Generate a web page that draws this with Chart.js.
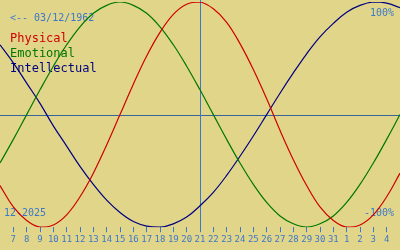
<!DOCTYPE html>
<html>
<head>
<meta charset="utf-8">
<script src="https://cdn.jsdelivr.net/npm/chart.js@4/dist/chart.umd.min.js"></script>
<style>
    html, body { margin: 0; padding: 0; background: #e1d58a; }
    #wrap { width: 400px; height: 250px; }
</style>
</head>
<body>
<div id="wrap"><canvas id="myChart" width="400" height="250"></canvas></div>
<script>
// days shown on the axis (Dec 6 .. Jan 5), the edge days are only there so the curves reach the borders
const days = [6, 7, 8, 9, 10, 11, 12, 13, 14, 15, 16, 17, 18, 19, 20, 21, 22, 23, 24, 25, 26, 27, 28, 29, 30, 31, 1, 2, 3, 4, 5];
const todayIndex = 15; // 21 dec

const physical = [-63, -82, -94, -100, -98, -89, -73, -52, -27, 0, 27, 52, 73, 89, 98, 100, 94, 82, 63, 40, 14, -14, -40, -63, -82, -94, -100, -98, -89, -73, -52];
const emotional = [-43, -22, 0, 22, 43, 62, 78, 90, 97, 100, 97, 90, 78, 62, 43, 22, 0, -22, -43, -62, -78, -90, -97, -100, -97, -90, -78, -62, -43, -22, 0];
const intellectual = [62, 46, 28, 10, -10, -28, -46, -62, -76, -87, -95, -99, -100, -97, -91, -81, -69, -54, -37, -19, 0, 19, 37, 54, 69, 81, 91, 97, 100, 99, 95];

const birthLabel = '<-- 03/12/1962';
const monthLabel = '12-2025';
const topLabel = '100%';
const bottomLabel = '-100%';

const blue = '#3c78c8';
const mono = "'DejaVu Sans Mono', 'Liberation Mono', monospace";

const toPoints = (values) => values.map((v, i) => ({ x: i, y: v }));

const marks = {
    id: 'marks',
    beforeDatasetsDraw(chart) {
        const { ctx, chartArea, scales } = chart;
        const x = scales.x, y = scales.y;
        ctx.save();

        // zero line
        const yz = Math.round(y.getPixelForValue(0)) + 0.5;
        ctx.strokeStyle = '#35659a';
        ctx.lineWidth = 1;
        ctx.beginPath();
        ctx.moveTo(0, yz);
        ctx.lineTo(chart.width, yz);
        ctx.stroke();

        // today
        const xt = Math.round(x.getPixelForValue(todayIndex)) + 0.5;
        ctx.strokeStyle = blue;
        ctx.beginPath();
        ctx.moveTo(xt, 0);
        ctx.lineTo(xt, chartArea.bottom);
        ctx.stroke();

        // texts
        ctx.textBaseline = 'alphabetic';
        ctx.font = '10px ' + mono;
        ctx.fillStyle = blue;
        ctx.textAlign = 'left';
        ctx.fillText(birthLabel, 10, 21);
        ctx.fillText(monthLabel, 4, 216);
        ctx.textAlign = 'right';
        ctx.fillText(topLabel, 394, 16);
        ctx.fillText(bottomLabel, 394, 216);

        ctx.textAlign = 'left';
        ctx.font = '12px ' + mono;
        chart.data.datasets.forEach((ds, i) => {
            ctx.fillStyle = ds.borderColor;
            ctx.fillText(ds.label, 10, 42 + i * 15);
        });
        ctx.restore();
    }
};

const ctx = document.getElementById('myChart').getContext('2d');

const data = {
    datasets: [
        { label: 'Physical', data: toPoints(physical), borderColor: '#d00000' },
        { label: 'Emotional', data: toPoints(emotional), borderColor: '#007800' },
        { label: 'Intellectual', data: toPoints(intellectual), borderColor: '#000080' },
    ]
};

const config = {
    type: 'line',
    data: data,
    options: {
        responsive: false,
        animation: false,
        layout: { padding: { top: 2, bottom: 3, left: 0, right: 0 } },
        elements: {
            point: { radius: 0 },
            line: { borderWidth: 1.2, tension: 0.4, fill: false }
        },
        plugins: {
            legend: { display: false },
            tooltip: { enabled: false }
        },
        scales: {
            x: {
                type: 'linear',
                min: 0,
                max: days.length - 1,
                afterBuildTicks: (axis) => {
                    axis.ticks = days.map((d, i) => ({ value: i })).filter(t => t.value > 0 && t.value < days.length - 1);
                },
                ticks: {
                    autoSkip: false,
                    maxRotation: 0,
                    color: blue,
                    padding: 2,
                    font: { family: mono, size: 9 },
                    callback: (v) => days[v]
                },
                grid: {
                    drawOnChartArea: false,
                    drawTicks: true,
                    tickLength: 5,
                    color: blue
                },
                border: { display: false }
            },
            y: {
                display: false,
                min: -100,
                max: 100
            }
        }
    },
    plugins: [marks]
};

new Chart(ctx, config);
</script>
</body>
</html>
